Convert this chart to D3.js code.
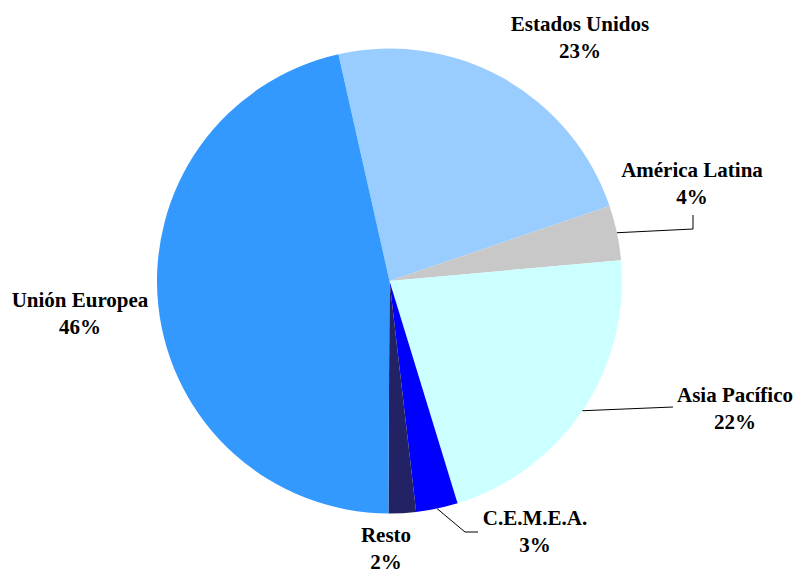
<!DOCTYPE html>
<html><head><meta charset="utf-8">
<script src="https://cdn.jsdelivr.net/npm/d3@7"></script>
<style>html,body{margin:0;padding:0;background:#fff;}svg{display:block;}
.lbl{font-family:"Liberation Serif","Times New Roman","DejaVu Serif",serif;font-weight:bold;font-size:21px;}</style>
</head><body>
<script>
const categories = ["Estados Unidos","América Latina","Asia Pacífico","C.E.M.E.A.","Resto","Unión Europea"];
const values = [23.3, 3.8, 21.7, 2.9, 1.9, 46.4];
const percentLabels = ["23%","4%","22%","3%","2%","46%"];
const colors = ["#99CCFF","#C8C8C8","#CCFFFF","#0000FF","#222264","#3399FF"];

const W = 799, H = 574, cx = 389.5, cy = 281, R = 232.5;
// label layout: [centerX, baseline of first line]
const labelPos = [[580,31],[692,177],[735,402],[535,525],[386,542],[80,307]];
// leader lines: elbow points (null = no leader)
const leaders = [null, [[693,229],[693,215]], [[673,407]], [[465,532],[478,532]], null, null];

const svg = d3.select("body").append("svg").attr("width",W).attr("height",H);
const g = svg.append("g").attr("transform",`translate(${cx},${cy})`);
const start = -12.7*Math.PI/180;
const pie = d3.pie().sort(null).startAngle(start).endAngle(start+2*Math.PI);
const arcs = pie(values);
const arc = d3.arc().innerRadius(0).outerRadius(R);
g.selectAll("path.slice").data(arcs).enter().append("path")
  .attr("class","slice").attr("d",arc).attr("fill",(d,i)=>colors[i]);

arcs.forEach((d,i)=>{
  if(!leaders[i]) return;
  const a = (d.startAngle+d.endAngle)/2;
  const p0 = [cx + R*Math.sin(a), cy - R*Math.cos(a)];
  const pts = [p0, ...leaders[i]];
  svg.append("path").attr("d", d3.line()(pts)).attr("fill","none")
    .attr("stroke","#000").attr("stroke-width",1);
});

categories.forEach((c,i)=>{
  const t = svg.append("text").attr("class","lbl").attr("text-anchor","middle").attr("fill","#000");
  t.append("tspan").attr("x",labelPos[i][0]).attr("y",labelPos[i][1]).text(c);
  t.append("tspan").attr("x",labelPos[i][0]).attr("y",labelPos[i][1]+27).text(percentLabels[i]);
});
</script>
</body></html>
